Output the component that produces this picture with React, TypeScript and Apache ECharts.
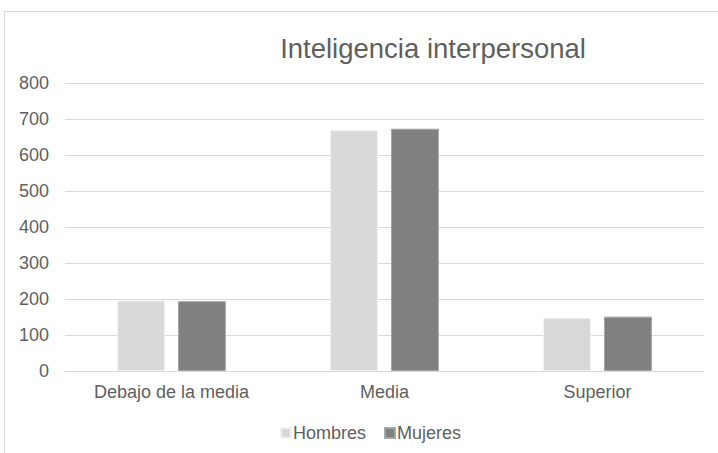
import React, { useEffect, useRef } from "react";
import * as echarts from "echarts";

const categories = ["Debajo de la media", "Media", "Superior"];
const hombres = [196, 669, 148];
const mujeres = [194, 673, 151];
const seriesNames = ["Hombres", "Mujeres"];

export default function App() {
  const ref = useRef<HTMLDivElement>(null);
  useEffect(() => {
    const chart = echarts.init(ref.current!, null, { renderer: "svg" });
    const font = "'Liberation Sans', Arial, sans-serif";
    chart.setOption({
      animation: false,
      backgroundColor: "#ffffff",
      textStyle: { fontFamily: font },
      title: {
        text: "Inteligencia interpersonal",
        left: 428,
        top: 29,
        textAlign: "center",
        textStyle: { fontFamily: font, fontSize: 27.5, fontWeight: "normal", color: "#5f5f5f" },
      },
      graphic: [
        {
          type: "rect",
          shape: { x: 4.5, y: 11.5, width: 800, height: 800 },
          style: { fill: "none", stroke: "#d9d9d9", lineWidth: 1 },
          silent: true,
        },
      ],
      legend: {
        data: seriesNames,
        left: 275,
        top: 419,
        icon: "rect",
        itemWidth: 10,
        itemHeight: 10,
        itemGap: 18,
        textStyle: { fontFamily: font, fontSize: 18, color: "#5f5f5f", padding: [0, 0, 0, -3] },
      },
      grid: { left: 65, right: 14, top: 83, bottom: 82, containLabel: false },
      xAxis: {
        type: "category",
        data: categories,
        axisLine: { lineStyle: { color: "#d9d9d9", width: 1 } },
        axisTick: { show: false },
        axisLabel: { fontFamily: font, fontSize: 18, color: "#5f5f5f", margin: 12 },
      },
      yAxis: {
        type: "value",
        min: 0,
        max: 800,
        interval: 100,
        axisLine: { show: false },
        axisTick: { show: false },
        splitLine: { lineStyle: { color: "#d9d9d9", width: 1 } },
        axisLabel: { fontFamily: font, fontSize: 18, color: "#5f5f5f", margin: 16 },
      },
      series: [
        {
          name: seriesNames[0],
          type: "bar",
          data: hombres,
          barWidth: "22.5%",
          barGap: "27%",
          itemStyle: { color: "#d9d9d9", borderColor: "#f2f2f2", borderWidth: 1 },
        },
        {
          name: seriesNames[1],
          type: "bar",
          data: mujeres,
          barWidth: "22.5%",
          barGap: "27%",
          itemStyle: { color: "#808080", borderColor: "#a6a6a6", borderWidth: 1 },
        },
      ],
    });
    return () => chart.dispose();
  }, []);
  return (
    <div
      ref={ref}
      style={{ position: "fixed", left: 0, top: 0, width: 718, height: 453 }}
    />
  );
}
